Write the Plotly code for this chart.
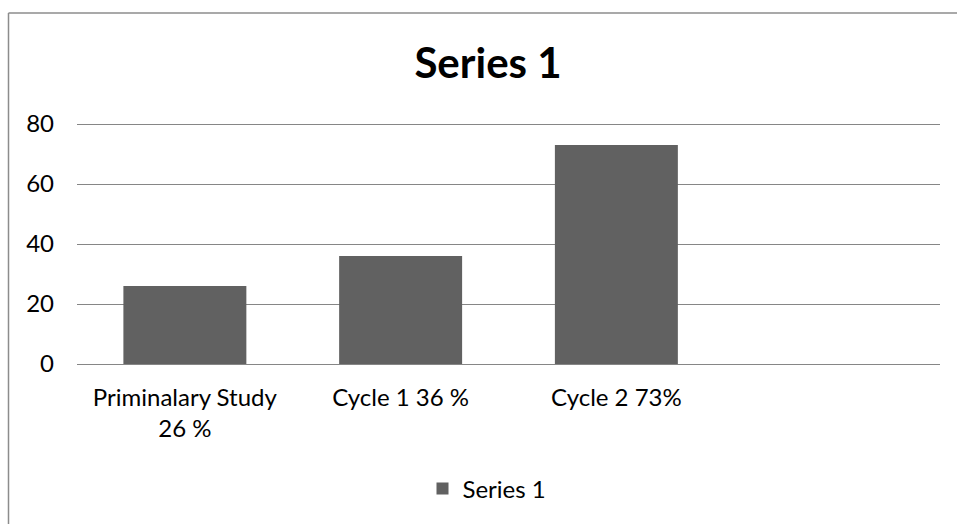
import plotly.graph_objects as go

categories = ["Priminalary Study<br>26 %", "Cycle 1 36 %", "Cycle 2 73%"]
values = [26, 36, 73]
series_name = "Series 1"
y_ticks = [0, 20, 40, 60, 80]
y_max = 82

FONT = "Lato, Calibri, Carlito, sans-serif"
GRID = "#868686"

W, H = 957, 524
L, R, B = 77, 17, 160
# 20 units = 60 px -> 3 px per unit
T = H - B - int(round(y_max * 3))
pw, ph = W - L - R, H - T - B


def px_x(px):
    return (px - L) / pw


def px_y(py):
    return (H - B - py) / ph


fig = go.Figure()
fig.add_trace(go.Bar(
    x=categories, y=values, name=series_name,
    marker=dict(color="#616161", line=dict(width=0)),
    showlegend=True,
))

fig.update_layout(
    width=W, height=H,
    margin=dict(l=L, r=R, t=T, b=B, autoexpand=False),
    paper_bgcolor="white", plot_bgcolor="white",
    font=dict(family=FONT, size=24, color="#000000"),
    bargap=0.43,
    title=dict(text="<b>Series 1</b>", font=dict(family=FONT, size=42, color="#000000"),
               x=488 / W, xanchor="center", xref="container",
               y=1 - 63 / H, yanchor="middle", yref="container"),
    showlegend=True,
    legend=dict(orientation="h", x=px_x(487), xanchor="center", y=px_y(489), yanchor="middle",
                font=dict(family=FONT, size=24, color="#000000"), itemwidth=30,
                bgcolor="rgba(0,0,0,0)"),
    xaxis=dict(type="category", range=[-0.5, 3.5], showgrid=False, showline=True,
               linecolor=GRID, linewidth=1, ticks="", ticklabelstandoff=12,
               tickfont=dict(family=FONT, size=24, color="#000000")),
    yaxis=dict(range=[0, y_max], tickvals=y_ticks, showgrid=True, gridcolor=GRID, gridwidth=1,
               zeroline=True, zerolinecolor=GRID, zerolinewidth=1, showline=False, ticks="",
               ticklabelstandoff=22, tickfont=dict(family=FONT, size=24, color="#000000")),
    shapes=[
        dict(type="line", xref="paper", yref="paper", x0=px_x(8.5), x1=px_x(8.5),
             y0=px_y(13), y1=px_y(560), line=dict(color="#8c8c8c", width=1.5)),
        dict(type="line", xref="paper", yref="paper", x0=px_x(8.5), x1=px_x(1000),
             y0=px_y(13), y1=px_y(13), line=dict(color="#8c8c8c", width=1.5)),
    ],
)

fig.write_html(
    "out.html",
    config={"displayModeBar": False},
    post_script="document.body.style.margin='0';document.body.style.overflow='hidden';",
)
